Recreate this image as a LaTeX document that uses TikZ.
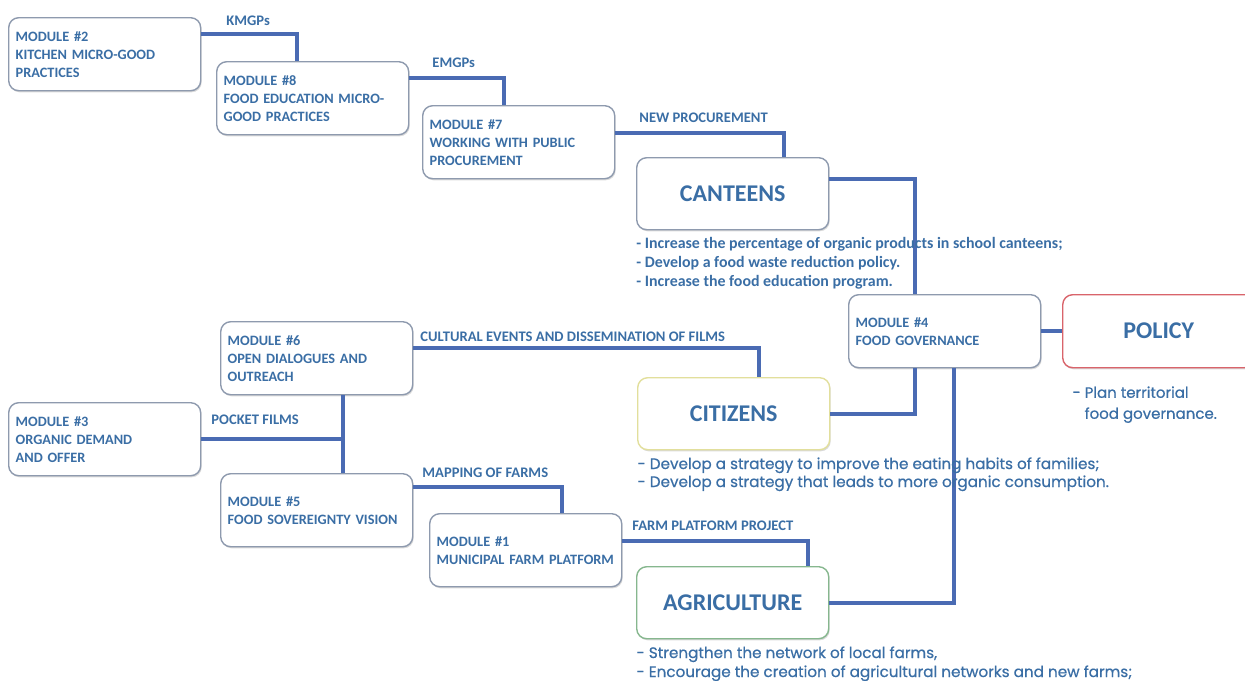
\documentclass[tikz,border=0pt]{standalone}
\usepackage{fontspec}
\setmainfont{Carlito}
\newfontfamily\gothic{Poppins}[FakeBold=0.6]
\usetikzlibrary{shadows}
\definecolor{txtblue}{HTML}{3A6EA5}
\definecolor{linkblue}{HTML}{4A6BB3}
\definecolor{boxgray}{HTML}{8E9AAE}
\definecolor{citizenyellow}{HTML}{E2DF9C}
\definecolor{agrigreen}{HTML}{86B78E}
\definecolor{policyred}{HTML}{D9646B}

\begin{document}
\begin{tikzpicture}[x=0.5pt,y=-0.5pt,
  module/.style={draw=boxgray,line width=0.7pt,rounded corners=5pt,fill=white,
    drop shadow={shadow xshift=0.5pt,shadow yshift=-0.8pt,opacity=0.3},
    anchor=north west,text width=89pt,inner xsep=3.5pt,minimum height=36.5pt,align=left,
    text=txtblue,font=\fontsize{7.15}{9}\selectfont\bfseries},
  hub/.style={draw=boxgray,line width=0.7pt,rounded corners=5pt,fill=white,
    drop shadow={shadow xshift=0.5pt,shadow yshift=-0.8pt,opacity=0.3},
    anchor=north west,minimum width=96pt,minimum height=36pt,
    text=txtblue,font=\fontsize{12}{13}\selectfont\bfseries},
  link/.style={linkblue,line width=1.9pt},
  tag/.style={anchor=west,inner sep=0pt,text=txtblue,font=\fontsize{7.3}{9}\selectfont\bfseries},
  goal/.style={anchor=north west,inner sep=0pt,align=left,text=txtblue}]
\useasboundingbox (0,0) rectangle (1245,680);

% modules
\node[module] (m2) at (8,17) {MODULE \#2\\KITCHEN MICRO-GOOD\\PRACTICES};
\node[module] (m8) at (216,61) {MODULE \#8\\FOOD EDUCATION MICRO-\\GOOD PRACTICES};
\node[module] (m7) at (422,105) {MODULE \#7\\WORKING WITH PUBLIC\\PROCUREMENT};
\node[module] (m6) at (220,321) {MODULE \#6\\OPEN DIALOGUES AND\\OUTREACH};
\node[module] (m3) at (8,402) {MODULE \#3\\ORGANIC DEMAND\\AND OFFER};
\node[module] (m5) at (220,473) {MODULE \#5\\\mbox{FOOD SOVEREIGNTY VISION}};
\node[module] (m1) at (429,513) {MODULE \#1\\\mbox{MUNICIPAL FARM PLATFORM}};
\node[module] (m4) at (848,294) {MODULE \#4\\FOOD GOVERNANCE};

% target groups
\node[hub] (canteens) at (636,157) {CANTEENS};
\node[hub,draw=citizenyellow] (citizens) at (637,377) {CITIZENS};
\node[hub,draw=agrigreen] (agri) at (636,566) {AGRICULTURE};
\node[hub,draw=policyred,minimum height=36.5pt] (policy) at (1062,294) {POLICY};

% connectors
\draw[link] ([yshift=10pt]m2.east) -| ([xshift=-7.75pt]m8.north);
\draw[link] ([yshift=10pt]m8.east) -| ([xshift=-7.25pt]m7.north);
\draw[link] ([yshift=4.75pt]m7.east) -| ([xshift=25.5pt]canteens.north);
\draw[link] ([yshift=7.25pt]canteens.east) -| ([xshift=-14.75pt]m4.north);
\draw[link] (m4.east) -- (policy.west);
\draw[link] (citizens.east) -| ([xshift=-14.75pt]m4.south);
\draw[link] (agri.east) -| ([xshift=4.75pt]m4.south);
\draw[link] ([yshift=5.25pt]m6.east) -| ([xshift=12.5pt]citizens.north);
\coordinate (fork) at ([xshift=13pt]m6.south);
\draw[link] (fork) -- ([xshift=13pt]m5.north);
\draw[link] (m3.east) -- (m3.east -| fork);
\draw[link] ([yshift=11.75pt]m5.east) -| ([xshift=18pt]m1.north);
\draw[link] ([yshift=4.5pt]m1.east) -| ([xshift=37.75pt]agri.north);

% connector labels
\node[tag] (kmgps) at (226,21) {KMGPs};
\node[tag] (emgps) at (432,63) {EMGPs};
\node[tag] (newproc) at (639,118) {NEW PROCUREMENT};
\node[tag] (events) at (420,337) {CULTURAL EVENTS AND DISSEMINATION OF FILMS};
\node[tag] (pocket) at (211,420) {POCKET FILMS};
\node[tag] (mapping) at (422,473) {MAPPING OF FARMS};
\node[tag] (platform) at (632,526) {FARM PLATFORM PROJECT};

% objectives
\node[goal,font=\fontsize{7.95}{9.5}\selectfont\bfseries] (canteensgoals) at (636,237)
  {- Increase the percentage of organic products in school canteens;\\
   - Develop a food waste reduction policy.\\
   - Increase the food education program.};
\node[goal,font=\gothic\fontsize{7.6}{9}\selectfont] (citizensgoals) at (637,457)
  {- Develop a strategy to improve the eating habits of families;\\
   - Develop a strategy that leads to more organic consumption.};
\node[goal,font=\gothic\fontsize{7.6}{9.5}\selectfont] (agrigoals) at (636,646)
  {- Strengthen the network of local farms,\\
   - Encourage the creation of agricultural networks and new farms;};
\node[goal,font=\gothic\fontsize{7.5}{10.5}\selectfont] (policygoals) at (1072,386)
  {- Plan territorial\\ \phantom{- }food governance.};
\end{tikzpicture}
\end{document}
